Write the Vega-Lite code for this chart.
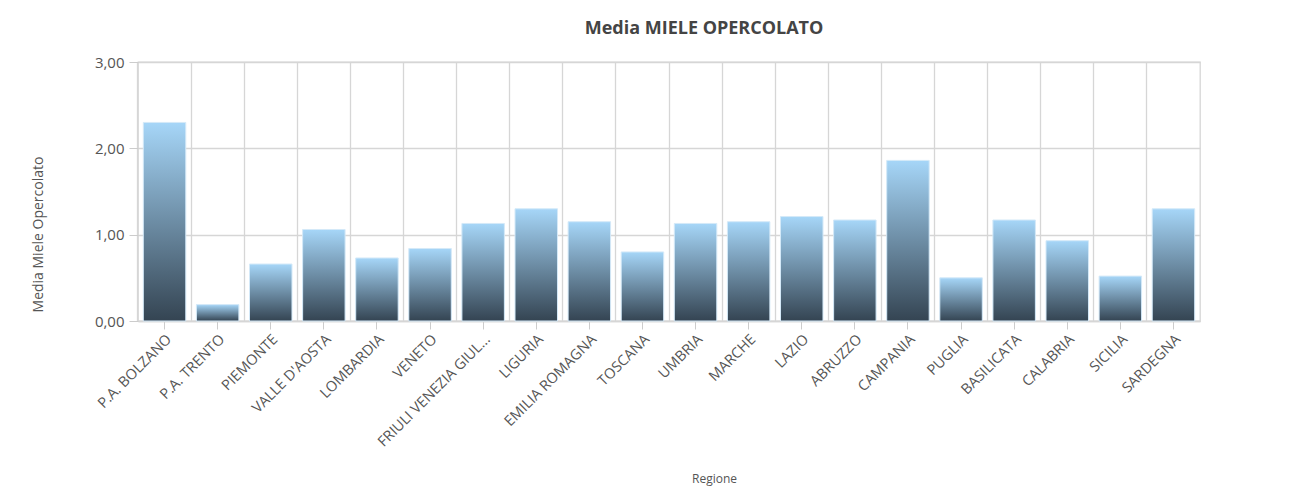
{
  "$schema": "https://vega.github.io/schema/vega-lite/v6.json",
  "autosize": {"type": "none"},
  "padding": {"left": 138, "top": 62, "right": 94, "bottom": 165},
  "width": 1062,
  "height": 259,
  "background": "white",
  "title": {
    "text": "Media MIELE OPERCOLATO",
    "font": "Open Sans",
    "fontSize": 18,
    "fontWeight": "bold",
    "color": "#444444",
    "anchor": "middle",
    "dx": 35,
    "offset": 17
  },
  "data": {
    "values": [
      {"regione": "P.A. BOLZANO", "media": 2.30},
      {"regione": "P.A. TRENTO", "media": 0.19},
      {"regione": "PIEMONTE", "media": 0.66},
      {"regione": "VALLE D'AOSTA", "media": 1.06},
      {"regione": "LOMBARDIA", "media": 0.73},
      {"regione": "VENETO", "media": 0.84},
      {"regione": "FRIULI VENEZIA GIUL...", "media": 1.13},
      {"regione": "LIGURIA", "media": 1.30},
      {"regione": "EMILIA ROMAGNA", "media": 1.15},
      {"regione": "TOSCANA", "media": 0.80},
      {"regione": "UMBRIA", "media": 1.13},
      {"regione": "MARCHE", "media": 1.15},
      {"regione": "LAZIO", "media": 1.21},
      {"regione": "ABRUZZO", "media": 1.17},
      {"regione": "CAMPANIA", "media": 1.86},
      {"regione": "PUGLIA", "media": 0.50},
      {"regione": "BASILICATA", "media": 1.17},
      {"regione": "CALABRIA", "media": 0.93},
      {"regione": "SICILIA", "media": 0.52},
      {"regione": "SARDEGNA", "media": 1.30}
    ]
  },
  "layer": [
    {
      "mark": {
        "type": "bar",
        "opacity": 0
      },
      "encoding": {
        "x": {
          "field": "regione",
          "type": "nominal",
          "sort": null,
          "scale": {"paddingInner": 0.2, "paddingOuter": 0.1},
          "axis": {
            "orient": "top",
            "title": null,
            "labels": false,
            "ticks": false,
            "domain": false,
            "grid": true,
            "bandPosition": -0.125,
            "gridColor": "#d6d6d6",
            "gridWidth": 1.3
          }
        },
        "y": {"field": "media", "type": "quantitative"}
      }
    },
    {
      "mark": {
        "type": "bar",
        "fill": {
          "gradient": "linear",
          "x1": 0, "y1": 0, "x2": 0, "y2": 1,
          "stops": [
            {"offset": 0, "color": "#a6d6f8"},
            {"offset": 1, "color": "#344452"}
          ]
        },
        "stroke": "#d4e9f8",
        "strokeWidth": 1
      },
      "encoding": {
        "x": {
          "field": "regione",
          "type": "nominal",
          "sort": null,
          "axis": {
            "title": "Regione",
            "titleFont": "Open Sans",
            "titleFontSize": 12,
            "titleFontWeight": "normal",
            "titleColor": "#555555",
            "titleX": 576,
            "titleY": 157,
            "titleAlign": "center",
            "titleBaseline": "middle",
            "labelAngle": -45,
            "labelAlign": "right",
            "labelBaseline": "top",
            "labelFont": "Open Sans",
            "labelFontSize": 14.5,
            "labelColor": "#555555",
            "labelPadding": 3,
            "labelLimit": 250,
            "ticks": true,
            "tickSize": 8,
            "tickColor": "#cccccc",
            "domain": true,
            "domainColor": "#d6d6d6",
            "domainWidth": 1.3,
            "grid": false
          }
        },
        "y": {
          "field": "media",
          "type": "quantitative",
          "scale": {"domain": [0, 3]},
          "axis": {
            "values": [0, 1, 2, 3],
            "labelExpr": "replace(format(datum.value, '.2f'), '.', ',')",
            "title": "Media Miele Opercolato",
            "titleFont": "Open Sans",
            "titleFontSize": 14,
            "titleFontWeight": "normal",
            "titleColor": "#555555",
            "titleAngle": -90,
            "titleX": -100,
            "titleY": 172,
            "titleAlign": "center",
            "titleBaseline": "middle",
            "labelFont": "Open Sans",
            "labelFontSize": 15,
            "labelColor": "#555555",
            "labelPadding": 5,
            "tickSize": 9,
            "tickColor": "#cccccc",
            "domain": false,
            "grid": true,
            "gridColor": "#d6d6d6",
            "gridWidth": 1.3
          }
        }
      }
    }
  ],
  "resolve": {"axis": {"x": "independent"}},
  "config": {
    "view": {"stroke": "#d6d6d6", "strokeWidth": 1.3}
  }
}
